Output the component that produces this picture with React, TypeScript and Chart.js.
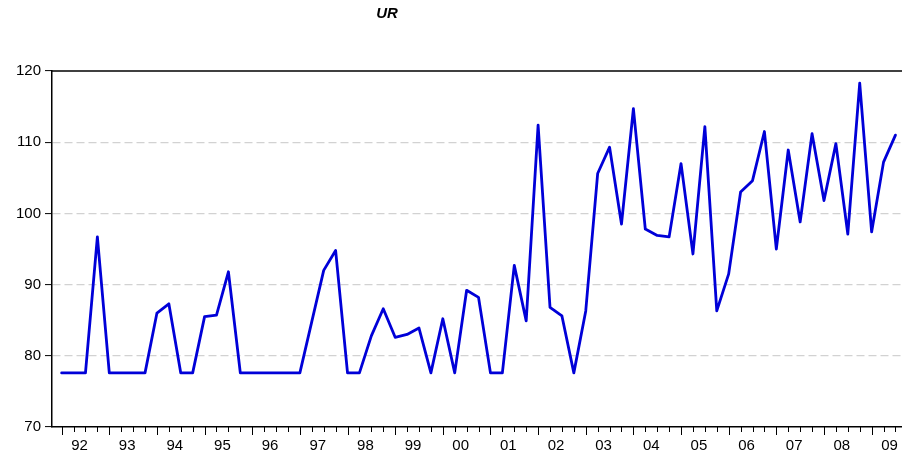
import React, { useEffect, useRef } from 'react';
import { Chart, registerables } from 'chart.js';

Chart.register(...registerables);

const yearLabels = ['92', '93', '94', '95', '96', '97', '98', '99', '00', '01', '02', '03', '04', '05', '06', '07', '08', '09'];

// UR, quarterly 1992Q1 .. 2009Q3
const urValues = [
  77.6, 77.6, 77.6, 96.7,
  77.6, 77.6, 77.6, 77.6,
  86.0, 87.3, 77.6, 77.6,
  85.5, 85.7, 91.8, 77.6,
  77.6, 77.6, 77.6, 77.6,
  77.6, 84.8, 92.0, 94.8,
  77.6, 77.6, 82.8, 86.6,
  82.6, 83.0, 83.9, 77.6,
  85.2, 77.6, 89.2, 88.2,
  77.6, 77.6, 92.7, 84.9,
  112.4, 86.8, 85.6, 77.6,
  86.3, 105.6, 109.3, 98.5,
  114.7, 97.8, 96.9, 96.7,
  107.0, 94.3, 112.2, 86.3,
  91.5, 103.0, 104.6, 111.5,
  95.0, 108.9, 98.8, 111.2,
  101.8, 109.8, 97.1, 118.3,
  97.4, 107.2, 111.0,
];

const yTicks = [70, 80, 90, 100, 110, 120];

export default function App() {
  const ref = useRef<HTMLCanvasElement>(null);

  useEffect(() => {
    document.body.style.margin = '0';
    const canvas = ref.current;
    if (!canvas) return;

    const frame = {
      id: 'frameAndQuarterTicks',
      afterDraw(chart: any) {
        const { ctx, chartArea } = chart;
        const xs = chart.scales.x;
        ctx.save();
        ctx.strokeStyle = '#000';
        ctx.lineWidth = 1.5;
        ctx.beginPath();
        ctx.moveTo(chartArea.left, chartArea.top);
        ctx.lineTo(chartArea.right, chartArea.top);
        ctx.stroke();
        ctx.lineWidth = 1;
        for (let i = 0; i <= urValues.length; i++) {
          const px = Math.round(xs.getPixelForValue(i)) + 0.5;
          if (px > chartArea.right) break;
          const len = i % 4 === 0 ? 8 : 5;
          ctx.beginPath();
          ctx.moveTo(px, chartArea.bottom);
          ctx.lineTo(px, chartArea.bottom + len);
          ctx.stroke();
        }
        ctx.restore();
      },
    };

    const chart = new Chart(canvas, {
      type: 'line',
      data: {
        datasets: [
          {
            label: 'UR',
            data: urValues.map((v, i) => ({ x: i, y: v })),
            borderColor: '#0000d8',
            borderWidth: 2.8,
            borderJoinStyle: 'round',
            borderCapStyle: 'round',
            pointRadius: 0,
            fill: false,
            tension: 0,
          },
        ],
      },
      options: {
        responsive: false,
        animation: false,
        layout: { padding: { top: 71, left: 0, right: 0, bottom: 0 } },
        plugins: {
          legend: { display: false },
          tooltip: { enabled: false },
          title: { display: false },
        },
        scales: {
          x: {
            type: 'linear',
            min: -0.81,
            max: 70.55,
            afterBuildTicks: (scale: any) => {
              scale.ticks = yearLabels.map((_, k) => ({ value: 4 * k + 1.5 }));
            },
            afterFit: (scale: any) => {
              scale.height = 34;
            },
            ticks: {
              autoSkip: false,
              maxRotation: 0,
              minRotation: 0,
              padding: 2,
              color: '#000',
              font: { family: 'Arial, "Liberation Sans", sans-serif', size: 15 },
              callback: (value: any) => yearLabels[Math.round((Number(value) - 1.5) / 4)] ?? '',
            },
            grid: {
              drawOnChartArea: false,
              drawTicks: true,
              tickLength: 8,
              tickColor: 'rgba(0,0,0,0)',
            },
            border: { display: true, color: '#000', width: 1.5 },
          },
          y: {
            min: 70,
            max: 120,
            afterBuildTicks: (scale: any) => {
              scale.ticks = yTicks.map((v) => ({ value: v }));
            },
            afterFit: (scale: any) => {
              scale.width = 52;
            },
            ticks: {
              padding: 4,
              color: '#000',
              font: { family: 'Arial, "Liberation Sans", sans-serif', size: 15 },
            },
            grid: {
              color: (c: any) =>
                c.tick && c.tick.value > 70 && c.tick.value < 120 ? '#d2d2d2' : 'rgba(0,0,0,0)',
              lineWidth: 1.2,
              drawTicks: true,
              tickLength: 7,
              tickColor: '#000',
              tickWidth: 1,
              tickBorderDash: [],
            },
            border: { display: true, color: '#000', width: 1.5, dash: [8, 4] },
          },
        },
      },
      plugins: [frame],
    });

    return () => {
      chart.destroy();
    };
  }, []);

  return (
    <div style={{ position: 'absolute', left: 0, top: 0, width: 902, height: 461, background: '#fff' }}>
      <div
        style={{
          position: 'absolute',
          left: 387,
          top: 5,
          transform: 'translateX(-50%)',
          fontFamily: 'Arial, "Liberation Sans", sans-serif',
          fontWeight: 'bold',
          fontStyle: 'italic',
          fontSize: 15,
          lineHeight: '15px',
        }}
      >
        UR
      </div>
      <canvas ref={ref} width={902} height={461} style={{ display: 'block', width: 902, height: 461 }} />
    </div>
  );
}
